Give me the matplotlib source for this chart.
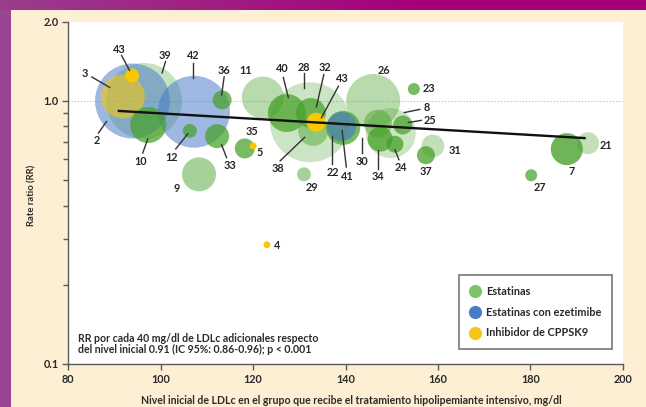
import numpy as np
import matplotlib
matplotlib.use("Agg")
import matplotlib.pyplot as plt
from matplotlib.lines import Line2D
from matplotlib.ticker import FixedLocator, NullFormatter, FixedFormatter

plt.rcParams["font.family"] = ["Lato", "DejaVu Sans"]

# ---- data: one entry per trial ----
trial_ids = ["2", "39", "42", "3", "43", "10", "36", "12", "33", "9",
             "11", "35", "5", "28", "40", "32", "38", "43", "22", "41",
             "26", "8", "30", "25", "34", "24", "23", "31", "37", "7",
             "21", "27", "29", "4"]
groups = ["eze", "est", "eze", "pcsk9", "pcsk9", "est", "est", "est", "est", "est",
          "est", "est", "pcsk9", "est", "est", "est", "est", "pcsk9", "est", "eze",
          "est", "est", "est", "est", "est", "est", "est", "est", "est", "est",
          "est", "est", "est", "pcsk9"]
ldl_baseline = [93.9, 96.4, 107.2, 91.8, 93.8, 97.3, 113.3, 106.3, 112.2, 108.3,
                122.1, 118.2, 120.0, 132.3, 127.3, 132.5, 133.0, 133.6, 139.5, 139.2,
                146.0, 149.8, 147.0, 152.4, 147.5, 150.7, 154.8, 158.9, 157.4, 187.9,
                192.5, 180.2, 131.0, 123.0]
rate_ratio = [1.00, 1.00, 0.91, 1.04, 1.25, 0.81, 1.01, 0.77, 0.735, 0.526,
              1.03, 0.66, 0.675, 0.83, 0.90, 0.90, 0.77, 0.83, 0.79, 0.80,
              1.00, 0.755, 0.82, 0.81, 0.716, 0.685, 1.11, 0.674, 0.622, 0.656,
              0.691, 0.522, 0.526, 0.284]
weight = [140.6, 144.4, 129.6, 48.4, 4.9, 32.4, 9.0, 4.9, 14.4, 28.9,
          44.1, 10.0, 1.2, 160.0, 36.1, 22.5, 22.5, 9.0, 28.9, 21.0,
          72.9, 62.5, 19.6, 9.0, 15.6, 7.2, 3.6, 13.2, 8.1, 25.6,
          12.1, 3.6, 4.9, 1.2]

# regression: RR per 40 mg/dl = 0.91
fit_x = [90.7, 192.0]
fit_rr0 = 0.917
rr_per_40 = 0.91

legend_labels = ["Estatinas", "Estatinas con ezetimibe", "Inhibidor de CPPSK9"]
x_ticks = [80, 100, 120, 140, 160, 180, 200]
y_major = [0.1, 1.0, 2.0]
y_major_labels = ["0.1", "1.0", "2.0"]
y_minor = [0.2, 0.3, 0.4, 0.5, 0.6, 0.7, 0.8, 0.9]

# ---- styling ----
base = {"est": (0.275, 0.627, 0.157), "eze": (0.275, 0.47, 0.784),
        "pcsk9": (0.98, 0.784, 0.0)}
legend_colors = ["#7cc46c", "#4a7cc6", "#f7c51a"]
# per-bubble fill opacity
opacity = [0.52, 0.30, 0.52, 0.55, 1.0, 0.72, 0.72, 0.72, 0.72, 0.48,
           0.38, 0.72, 1.0, 0.28, 0.72, 0.72, 0.45, 1.0, 0.72, 0.62,
           0.38, 0.28, 0.45, 0.72, 0.75, 0.75, 0.72, 0.33, 0.75, 0.78,
           0.33, 0.72, 0.48, 1.0]
# label offsets (pixels from bubble centre, y downward) and optional leader segment
label_layout = [
    ((-35.5, 39.5), (-34, 32, -26, 20.5)),
    ((21, -45.5), (21.5, -39.5, 18, -28)),
    ((-1, -56), (-0.7, -49, -0.7, -34)),
    ((-38, -23), (-31, -19.5, -13, -9)),
    ((-12.5, -25.5), (-10.5, -20, -2.5, -5)),
    ((-7.5, 36.5), (-5.5, 28, -0.5, 14)),
    ((2, -29), (2, -23, -0.5, -5)),
    ((-18, 26.5), (-14, 18, -2, 3)),
    ((12.5, 29), (9.5, 21.5, 4.5, 8.5)),
    ((-22, 14), None),
    ((-17, -27), None),
    ((7, -16.5), None),
    ((7, 6.5), None),
    ((-6.5, -55), (-5.7, -49, -5.7, -34.5)),
    ((-4.5, -45), (-3.5, -35.5, 1.5, -15.5)),
    ((14.5, -45.5), (13, -38.5, 5.5, -6)),
    ((-35, 38), (-33, 30, -8.5, 6.5)),
    ((26, -44), (22.5, -36, 5.5, -4.5)),
    ((-10.5, 45), (-10.7, 36.5, -10.7, 8)),
    ((5.5, 50.5), (4.5, 40.5, 0.3, 4)),
    ((10.5, -30), None),
    ((35.5, -26), (13.5, -20.5, 29, -23.7)),
    ((-15.5, 38), (-15.7, 29.5, -15.7, 14)),
    ((27, -5), (5.5, -2.5, 18.5, -4.7)),
    ((-2.3, 37.5), (-2.3, 30, -2.3, 10.5)),
    ((6.5, 23.5), (4, 15.5, 0, 5.5)),
    ((15.5, -0.5), None),
    ((22, 4), None),
    ((0, 16.5), None),
    ((5, 22), None),
    ((18, 2), None),
    ((9, 12.5), None),
    ((8, 13), None),
    ((10, 0.5), None),
]

W, H, DPI = 646, 407, 100
fig = plt.figure(figsize=(W / DPI, H / DPI), dpi=DPI, facecolor="#fdefd3")

# magenta header strip and purple side strip
band = fig.add_axes([0, 1 - 10 / H, 1, 10 / H])
t = np.clip(np.linspace(0, 1, W) / 0.65, 0, 1)
c0 = np.array([0.61, 0.24, 0.55])
c1 = np.array([0.645, 0.0, 0.478])
grad = (c0[None, :] * (1 - t[:, None]) + c1[None, :] * t[:, None])[None, :, :]
band.imshow(grad, aspect="auto", extent=[0, 1, 0, 1])
band.axis("off")
side = fig.add_axes([0, 0, 11 / W, 1 - 10 / H])
side.set_facecolor("#9a4592")
side.set_xticks([]); side.set_yticks([])
for s in side.spines.values():
    s.set_visible(False)

x_left, x_right, y_bottom, y_top = 68.3, 622.7, 364.0, 21.8
ax = fig.add_axes([x_left / W, 1 - y_bottom / H, (x_right - x_left) / W,
                   (y_bottom - y_top) / H])
ax.set_facecolor("white")
ax.set_yscale("log")
ax.set_xlim(80, 200)
ax.set_ylim(0.1, 2.0)

ax.axhline(1.0, color="#a9c6de", lw=0.8, ls=(0, (1.2, 1.6)), zorder=0.5)

# bubbles: largest first, PCSK9 on top
n = len(trial_ids)
order = sorted(range(n), key=lambda i: (groups[i] == "pcsk9" and opacity[i] == 1.0,
                                       -weight[i]))
SIZE_SCALE = 20.7
for z, i in enumerate(order):
    col = base[groups[i]] + (opacity[i],)
    ax.scatter([ldl_baseline[i]], [rate_ratio[i]], s=weight[i] * SIZE_SCALE,
               color=col, edgecolors="none", zorder=2 + z * 0.01)

# regression line
fx = np.array(fit_x)
fy = fit_rr0 * rr_per_40 ** ((fx - fit_x[0]) / 40.0)
ax.plot(fx, fy, color="#111111", lw=1.7, zorder=3, solid_capstyle="butt")

# labels and leader lines
to_axes = ax.transAxes.inverted()
for i in range(n):
    (tdx, tdy), leader = label_layout[i]
    ax.annotate(trial_ids[i], xy=(ldl_baseline[i], rate_ratio[i]),
                xytext=(tdx, -tdy), textcoords="offset pixels",
                ha="center", va="center", fontsize=7.8, fontweight="bold",
                color="#262626", zorder=5)
    if leader is not None:
        cx, cy = ax.transData.transform((ldl_baseline[i], rate_ratio[i]))
        x0, y0, x1, y1 = leader
        pts = to_axes.transform([(cx + x0, cy - y0), (cx + x1, cy - y1)])
        ax.plot(pts[:, 0], pts[:, 1], transform=ax.transAxes, color="#333333",
                lw=1.0, zorder=4.5, clip_on=False)

# axes styling
for s in ("top", "right"):
    ax.spines[s].set_visible(False)
for s in ("left", "bottom"):
    ax.spines[s].set_color("#5a5a5a")
    ax.spines[s].set_linewidth(1.0)
ax.xaxis.set_major_locator(FixedLocator(x_ticks))
ax.set_xticklabels([str(v) for v in x_ticks])
ax.yaxis.set_major_locator(FixedLocator(y_major))
ax.yaxis.set_major_formatter(FixedFormatter(y_major_labels))
ax.yaxis.set_minor_locator(FixedLocator(y_minor))
ax.yaxis.set_minor_formatter(NullFormatter())
ax.tick_params(axis="both", which="major", length=4.5, width=1.0, color="#5a5a5a",
               labelsize=7.8, labelcolor="#2a2a2a", pad=2.5)
ax.tick_params(axis="y", which="minor", length=3.5, width=1.0, color="#5a5a5a")
for lab in ax.get_xticklabels() + ax.get_yticklabels():
    lab.set_fontweight("bold")

fig.text(32 / W, 1 - 195 / H, "Rate ratio (RR)", rotation=90, ha="center",
         va="center", fontsize=6.8, color="#2a2a2a", fontweight="bold")
fig.text(351 / W, 1 - 401 / H,
         "Nivel inicial de LDLc en el grupo que recibe el tratamiento "
         "hipolipemiante intensivo, mg/dl",
         ha="center", va="center", fontsize=7.6, color="#2a2a2a", fontweight="bold")
fig.text(78 / W, 1 - 344 / H,
         "RR por cada 40 mg/dl de LDLc adicionales respecto\n"
         "del nivel inicial 0.91 (IC 95%: 0.86-0.96); p < 0.001",
         ha="left", va="center", fontsize=7.6, color="#2a2a2a",
         fontweight="bold", linespacing=0.95)

handles = [Line2D([], [], marker="o", ls="", markersize=9.5, markerfacecolor=c,
                  markeredgecolor="none") for c in legend_colors]
leg = fig.legend(handles, legend_labels, loc="upper left",
                 bbox_to_anchor=(459 / W, 1 - 274.7 / H), borderaxespad=0,
                 fontsize=7.9, frameon=True, fancybox=False, handlelength=1.0,
                 handletextpad=0.45, labelspacing=0.9, borderpad=1.0)
fr = leg.get_frame()
fr.set_edgecolor("#555555")
fr.set_linewidth(1.2)
fr.set_facecolor("white")
for txt in leg.get_texts():
    txt.set_fontweight("bold")
    txt.set_color("#2a2a2a")

fig.savefig("out.png", dpi=DPI, facecolor=fig.get_facecolor())
